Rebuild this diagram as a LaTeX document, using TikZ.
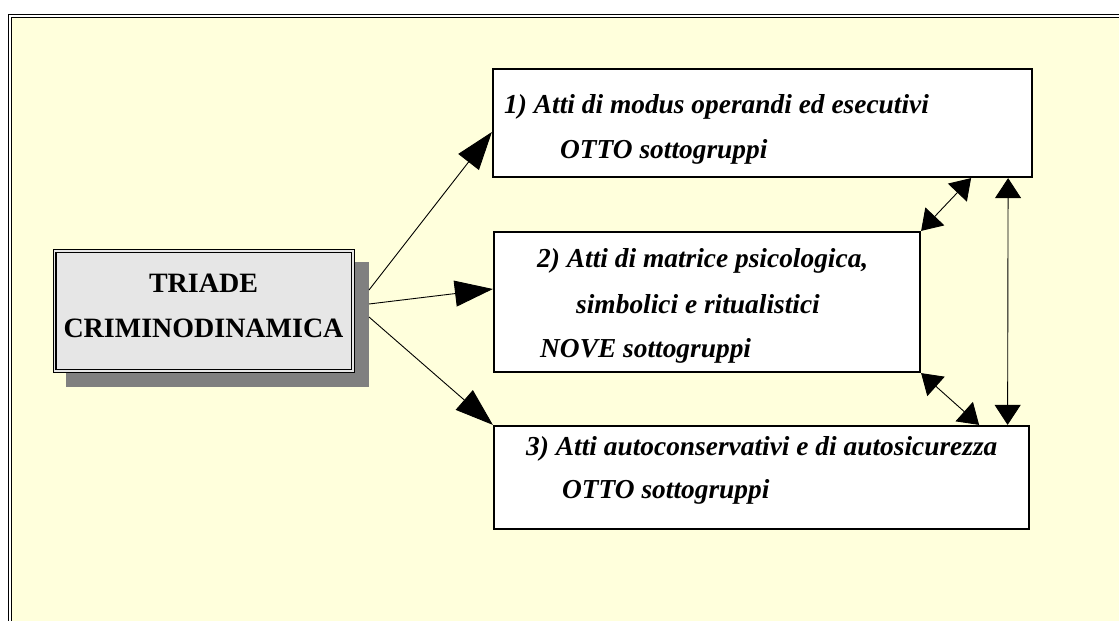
\documentclass[tikz,border=0pt]{standalone}
\usepackage{fontspec}
\setmainfont{Liberation Serif}
\usetikzlibrary{arrows.meta,calc}
\definecolor{bgyellow}{RGB}{255,255,220}
\definecolor{trifill}{RGB}{230,230,230}
\definecolor{shadowgray}{RGB}{128,128,128}
\tikzset{
  boxtext/.style={anchor=base west, inner sep=0pt, font=\fontsize{27.4}{33}\selectfont\bfseries\itshape},
  actbox/.style={draw=black, line width=2.2pt, fill=white, inner sep=0pt},
  bigarr/.style={-{Triangle[length=38pt,width=26pt]}, line width=0.9pt},
  dblarr/.style={{Triangle[length=20pt,width=26pt]}-{Triangle[length=20pt,width=26pt]}, line width=0.9pt},
}
\begin{document}
\begin{tikzpicture}[x=1pt,y=-1pt]
\clip (0,0) rectangle (1119,621);
\fill[white] (0,0) rectangle (1119,621);
% frame
\fill[bgyellow] (11.5,17.2) rectangle (1140,640);
\draw[line width=1pt] (8.8,640) |- (1140,14.5);
\draw[line width=1pt] (11.5,640) |- (1140,17.2);

% triade with shadow
\node[fill=shadowgray, inner sep=0pt, minimum width=303pt, minimum height=125pt] (sh) at (217.5,324.5) {};
\node[fill=trifill, draw=black, double=trifill, double distance=1.5pt, line width=1.2pt,
      inner sep=0pt, minimum width=298.5pt, minimum height=120pt] (tri) at (203.9,311) {};
\node[anchor=base, inner sep=0pt, font=\fontsize{28}{32}\selectfont\bfseries] (tri1) at (203.5,292.7) {TRIADE};
\node[anchor=base, inner sep=0pt, font=\fontsize{28}{32}\selectfont\bfseries] (tri2) at (203.5,337) {CRIMINODINAMICA};

% boxes
\node[actbox, minimum width=539pt, minimum height=108pt] (b1) at (762.5,123) {};
\node[actbox, minimum width=426pt, minimum height=140pt] (b2) at (707,302) {};
\node[actbox, minimum width=535pt, minimum height=103pt] (b3) at (761.5,477.5) {};

\node[boxtext] (b1l1) at (504,113) {1) Atti di modus operandi ed esecutivi};
\node[boxtext] (b1l2) at (560,158) {OTTO sottogruppi};
\node[boxtext] (b2l1) at (537,267) {2) Atti di matrice psicologica,};
\node[boxtext] (b2l2) at (576,313) {simbolici e ritualistici};
\node[boxtext] (b2l3) at (540,357) {NOVE sottogruppi};
\node[boxtext] (b3l1) at (526,455) {3) Atti autoconservativi e di autosicurezza};
\node[boxtext] (b3l2) at (562,498) {OTTO sottogruppi};

% arrows from triade
\coordinate (s1) at (369,290);
\coordinate (s2) at (369,304);
\coordinate (s3) at (369,317);
\draw[bigarr] (s1) -- ([yshift=-9pt]b1.west);
\draw[bigarr] (s2) -- ([yshift=13pt]b2.west);
\draw[bigarr] (s3) -- (b3.north west);

% double arrows
\draw[dblarr] (b2.north east) -- ([xshift=-62pt]b1.south east);
\draw[dblarr] (b2.south east) -- ([xshift=-51pt]b3.north east);
\draw[dblarr] ([xshift=-25pt]b1.south east) -- ([xshift=-22.5pt]b3.north east);
\end{tikzpicture}
\end{document}
